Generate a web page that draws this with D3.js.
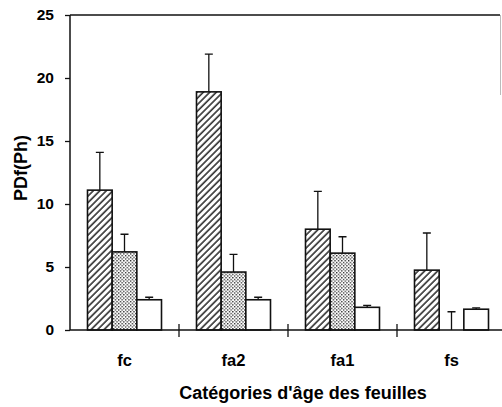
<!DOCTYPE html>
<html lang="fr">
<head>
    <meta charset="UTF-8">
    <title>PDf(Ph)</title>
    <script src="https://cdn.jsdelivr.net/npm/d3@7/dist/d3.min.js"></script>
    <style>
        body { margin: 0; background: #fff; }
        svg text {
            font-family: "Liberation Sans", Arial, sans-serif;
            font-weight: bold;
            fill: #000;
        }
        svg .frame { fill: none; stroke: #111; stroke-width: 1.5px; }
        svg .bar { stroke: #111; stroke-width: 1.6px; }
        svg .err { stroke: #111; stroke-width: 1.3px; fill: none; }
    </style>
</head>
<body>
    <svg width="502" height="407"></svg>
    <script>
        var categories = ['fc', 'fa2', 'fa1', 'fs'],
            series = ['hachure', 'pointille', 'blanc'],
            // mean values per category, one array per series
            hatchValues = [11.1, 18.9, 8.0, 4.75],
            dotValues = [6.2, 4.6, 6.1, 0],
            whiteValues = [2.4, 2.4, 1.8, 1.65],
            // top of error bars
            hatchErr = [14.1, 21.9, 11.0, 7.7],
            dotErr = [7.6, 6.0, 7.4, 1.45],
            whiteErr = [2.6, 2.6, 1.95, 1.75],
            yTicks = [0, 5, 10, 15, 20, 25],
            yTitle = 'PDf(Ph)',
            xTitle = 'Catégories d\'âge des feuilles';

        var svg = d3.select('svg'),
            plotLeft = 70, plotRight = 506, plotTop = 15, plotBottom = 330;

        var defs = svg.append('defs');

        var hatch = defs.append('pattern')
            .attr('id', 'hatch')
            .attr('patternUnits', 'userSpaceOnUse')
            .attr('width', 4.6)
            .attr('height', 4.6)
            .attr('patternTransform', 'rotate(45)');
        hatch.append('rect').attr('width', 4.6).attr('height', 4.6).attr('fill', '#fff');
        hatch.append('line')
            .attr('x1', 1).attr('y1', 0).attr('x2', 1).attr('y2', 4.6)
            .attr('stroke', '#111').attr('stroke-width', 1.4);

        var dots = defs.append('pattern')
            .attr('id', 'dots')
            .attr('patternUnits', 'userSpaceOnUse')
            .attr('width', 3.4)
            .attr('height', 3.4);
        dots.append('rect').attr('width', 3.4).attr('height', 3.4).attr('fill', '#fff');
        dots.append('rect').attr('x', 0).attr('y', 0).attr('width', 1.3).attr('height', 1.3).attr('fill', '#222');
        dots.append('rect').attr('x', 1.7).attr('y', 1.7).attr('width', 1.3).attr('height', 1.3).attr('fill', '#222');

        var fills = { hachure: 'url(#hatch)', pointille: 'url(#dots)', blanc: '#fff' };

        var x0 = d3.scaleBand()
            .domain(categories)
            .range([plotLeft, plotRight]);

        var x1 = d3.scaleBand()
            .domain(series)
            .range([0, 74]);

        var y = d3.scaleLinear()
            .domain([0, 25])
            .range([plotBottom, plotTop]);

        var rows = categories.map(function(c, i) {
            return [
                { cat: c, s: 'hachure', v: hatchValues[i], e: hatchErr[i] },
                { cat: c, s: 'pointille', v: dotValues[i], e: dotErr[i] },
                { cat: c, s: 'blanc', v: whiteValues[i], e: whiteErr[i] }
            ];
        });

        var groups = svg.selectAll('.group')
            .data(rows)
            .enter().append('g')
            .attr('class', 'group')
            .attr('transform', function(d, i) {
                return 'translate(' + (x0(categories[i]) + (x0.bandwidth() - 74) / 2) + ',0)';
            });

        // error bars first, bars drawn over them
        groups.selectAll('.err')
            .data(function(d) { return d; })
            .enter().append('path')
            .attr('class', 'err')
            .attr('d', function(d) {
                var cx = x1(d.s) + x1.bandwidth() / 2;
                return 'M' + cx + ',' + y(d.v) + 'V' + y(d.e) +
                    'M' + (cx - 4) + ',' + y(d.e) + 'H' + (cx + 4);
            });

        groups.selectAll('.bar')
            .data(function(d) { return d.filter(function(r) { return r.v > 0; }); })
            .enter().append('rect')
            .attr('class', 'bar')
            .attr('x', function(d) { return x1(d.s); })
            .attr('y', function(d) { return y(d.v); })
            .attr('width', x1.bandwidth())
            .attr('height', function(d) { return y(0) - y(d.v); })
            .attr('fill', function(d) { return fills[d.s]; });

        // frame: top line and faint right edge
        svg.append('path')
            .attr('class', 'frame')
            .attr('d', 'M' + plotLeft + ',' + plotTop + 'H500');
        svg.append('path')
            .attr('d', 'M500.5,' + plotTop + 'V95')
            .attr('stroke', '#bbb')
            .attr('stroke-width', 1)
            .attr('fill', 'none');

        // y axis
        var yAxis = svg.append('g')
            .attr('transform', 'translate(' + plotLeft + ',0)')
            .call(d3.axisLeft(y).tickValues(yTicks).tickSize(5).tickPadding(11));
        yAxis.select('.domain').attr('stroke', '#111').attr('stroke-width', 1.5)
            .attr('d', 'M0,' + plotTop + 'V' + plotBottom);
        yAxis.selectAll('.tick line').attr('stroke', '#111').attr('stroke-width', 1.3);
        yAxis.selectAll('.tick text').style('font-size', '15.5px').attr('fill', '#000');

        // x axis with separators between categories
        svg.append('line')
            .attr('x1', plotLeft).attr('x2', 502)
            .attr('y1', plotBottom).attr('y2', plotBottom)
            .attr('stroke', '#111').attr('stroke-width', 1.5);

        svg.selectAll('.sep')
            .data(categories.slice(1))
            .enter().append('line')
            .attr('class', 'sep')
            .attr('x1', function(d) { return x0(d); })
            .attr('x2', function(d) { return x0(d); })
            .attr('y1', plotBottom - 6)
            .attr('y2', plotBottom + 7)
            .attr('stroke', '#111').attr('stroke-width', 1.3);

        svg.selectAll('.cat')
            .data(categories)
            .enter().append('text')
            .attr('class', 'cat')
            .attr('x', function(d) { return x0(d) + x0.bandwidth() / 2; })
            .attr('y', 366)
            .attr('text-anchor', 'middle')
            .style('font-size', '16.5px')
            .text(function(d) { return d; });

        svg.append('text')
            .attr('x', 303)
            .attr('y', 399)
            .attr('text-anchor', 'middle')
            .style('font-size', '18px')
            .text(xTitle);

        svg.append('text')
            .attr('transform', 'translate(27,168) rotate(-90)')
            .attr('text-anchor', 'middle')
            .style('font-size', '18px')
            .text(yTitle);
    </script>
</body>
</html>
